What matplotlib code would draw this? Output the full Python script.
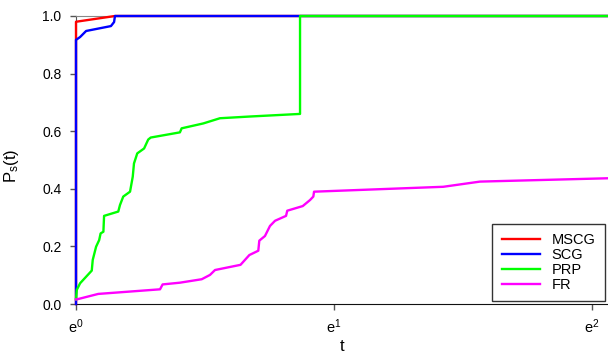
import numpy as np
import matplotlib
matplotlib.use("Agg")
import matplotlib.pyplot as plt

plt.rcParams['font.family'] = ['Liberation Sans', 'DejaVu Sans']
plt.rcParams['mathtext.default'] = 'regular'

# Performance profile data (t, P_s(t))
mscg_t = [1.0, 1.0, 1.163, 8.0]
mscg_p = [0.0, 0.98, 1.0, 1.0]

scg_t = [1.0, 1.0, 1.016, 1.040, 1.145, 1.159, 1.163, 8.0]
scg_p = [0.0, 0.917, 0.927, 0.948, 0.965, 0.979, 1.0, 1.0]

prp_t = [1.0, 1.003, 1.016, 1.063, 1.067, 1.081, 1.094, 1.100, 1.112, 1.115,
         1.178, 1.186, 1.201, 1.233, 1.246, 1.252, 1.268, 1.302, 1.323, 1.336,
         1.496, 1.506, 1.638, 1.747, 1.963, 2.383, 2.383, 8.0]
prp_p = [0.016, 0.049, 0.072, 0.116, 0.153, 0.199, 0.222, 0.245, 0.251, 0.306,
         0.321, 0.344, 0.373, 0.390, 0.442, 0.488, 0.523, 0.540, 0.571, 0.578,
         0.596, 0.610, 0.627, 0.645, 0.651, 0.660, 1.0, 1.0]

fr_t = [1.0, 1.003, 1.090, 1.385, 1.399, 1.496, 1.628, 1.681, 1.714, 1.892,
        1.958, 2.027, 2.035, 2.080, 2.121, 2.163, 2.257, 2.268, 2.408, 2.477,
        2.509, 2.516, 4.152, 4.787, 8.0]
fr_p = [0.016, 0.016, 0.035, 0.051, 0.068, 0.074, 0.086, 0.101, 0.118, 0.136,
        0.170, 0.185, 0.220, 0.236, 0.271, 0.289, 0.306, 0.324, 0.340, 0.361,
        0.373, 0.390, 0.407, 0.425, 0.437]

labels = ['MSCG', 'SCG', 'PRP', 'FR']
colors = ['#ff0000', '#0000ff', '#00ff00', '#ff00ff']
xticks = [1, np.e, np.e ** 2]
xtick_labels = [r'$e^{0}$', r'$e^{1}$', r'$e^{2}$']
yticks = [0.0, 0.2, 0.4, 0.6, 0.8, 1.0]

fig = plt.figure(figsize=(6.08, 3.54), dpi=100)
ax = fig.add_axes([76 / 608, 50 / 354, 532 / 608, 288 / 354])

series = [(mscg_t, mscg_p), (scg_t, scg_p), (prp_t, prp_p), (fr_t, fr_p)]
for (t, p), lab, c in zip(series, labels, colors):
    ax.plot(t, p, color=c, lw=1.7, label=lab, clip_on=False, zorder=3)

ax.set_xscale('log', base=np.e)
ax.set_xlim(1, np.exp(2.062))
ax.set_ylim(0, 1.0)
ax.set_xticks(xticks)
ax.set_xticklabels(xtick_labels)
ax.xaxis.set_minor_locator(matplotlib.ticker.NullLocator())
ax.set_yticks(yticks)
ax.set_yticklabels([f'{v:.1f}' for v in yticks])
ax.tick_params(axis='both', labelsize=10, length=4, width=1, color='#555555',
               direction='out')
ax.tick_params(axis='y', pad=6.5)
ax.tick_params(axis='x', pad=5.5, labelsize=10.5)

ax.spines['right'].set_visible(False)
ax.spines['top'].set_color('#888888')
ax.spines['left'].set_color('#555555')
ax.spines['bottom'].set_color('#111111')

ax.set_xlabel('t', fontsize=12)
ax.xaxis.set_label_coords(0.5, -0.122)
ax.set_ylabel('P$_s$(t)', fontsize=12)
ax.yaxis.set_label_coords(-0.104, 0.48)

leg = ax.legend(loc='lower right', bbox_to_anchor=(0.994, 0.01), fontsize=10.5,
                fancybox=False, frameon=True, handlelength=2.6,
                borderpad=0.65, labelspacing=0.05, handletextpad=0.8,
                borderaxespad=0)
leg.get_frame().set_edgecolor('black')
leg.get_frame().set_linewidth(1.0)
leg.set_zorder(5)

fig.savefig('out.png', dpi=100)
